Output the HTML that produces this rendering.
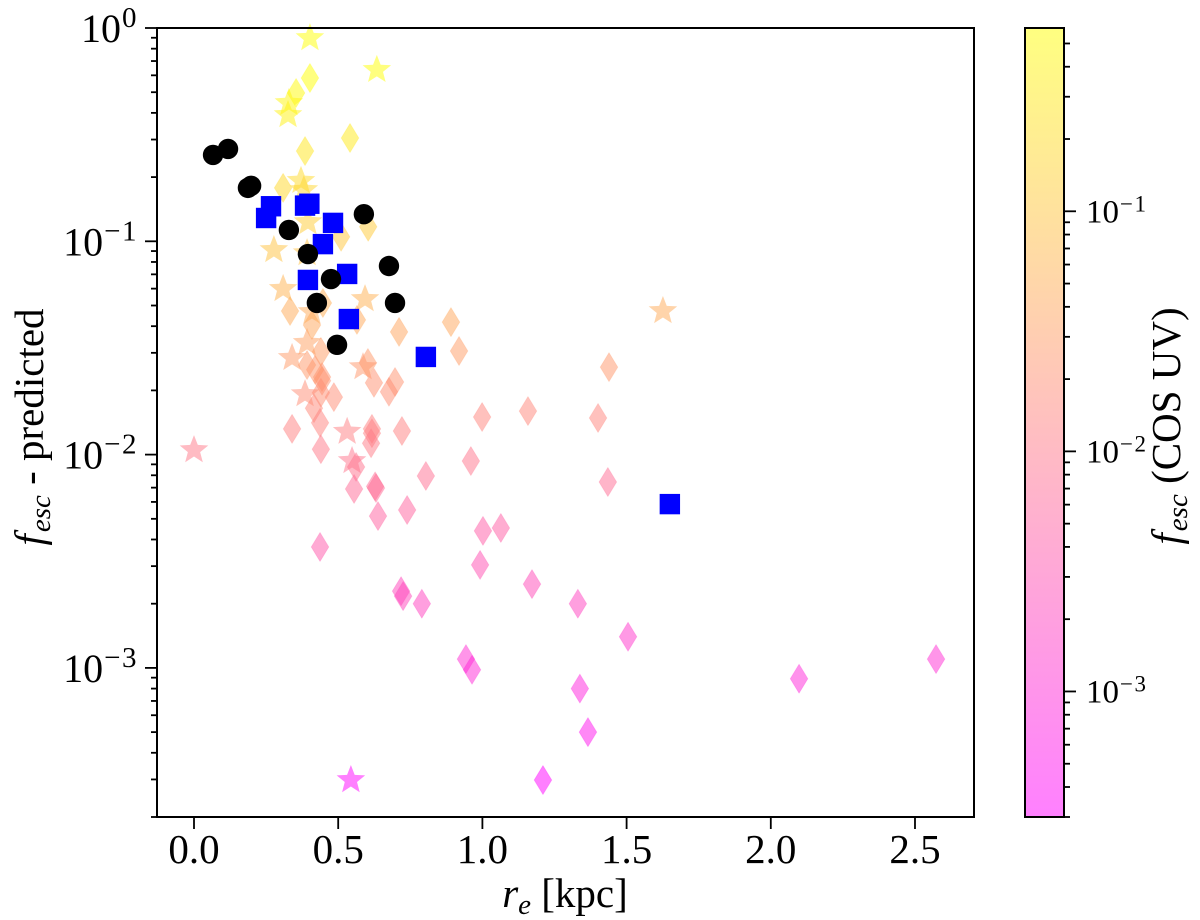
<!DOCTYPE html>
<html lang="en">
<head>
<meta charset="utf-8">
<title>fesc predicted vs re</title>
<style>
html,body{margin:0;padding:0;background:#fff;}
svg{display:block;font-family:"Liberation Serif","DejaVu Serif",serif;fill:#000;}
</style>
</head>
<body>
<svg id="chart" xmlns="http://www.w3.org/2000/svg" width="1200" height="920" viewBox="0 0 1200 920">
  <defs>
    <linearGradient id="cbGrad" x1="0" y1="1" x2="0" y2="0">
      <stop offset="0" stop-color="#ff80ff"/>
      <stop offset="1" stop-color="#ffff80"/>
    </linearGradient>
  </defs>
  <rect x="0" y="0" width="1200" height="920" fill="#fff"/>
  <g id="marks"></g>
  <rect x="157" y="28" width="817" height="789" fill="none" stroke="#000" stroke-width="2"/>
  <g id="axes"></g>
  <rect x="1025" y="28" width="39" height="789" fill="url(#cbGrad)" stroke="#000" stroke-width="2"/>
  <g id="cbaxis"></g>
  <text x="565" y="907" text-anchor="middle" font-size="41"><tspan font-style="italic">r</tspan><tspan font-style="italic" font-size="29" dy="7">e</tspan><tspan dy="-7"> [kpc]</tspan></text>
  <text transform="translate(43,427) rotate(-90)" text-anchor="middle" font-size="41"><tspan font-style="italic">f</tspan><tspan font-style="italic" font-size="29" dy="7" dx="2">esc</tspan><tspan dy="-7"> - predicted</tspan></text>
  <text transform="translate(1180,426) rotate(-90)" text-anchor="middle" font-size="41"><tspan font-style="italic">f</tspan><tspan font-style="italic" font-size="29" dy="7" dx="2">esc</tspan><tspan dy="-7"> (COS UV)</tspan></text>
</svg>
<script>
var diamondX = [0.402,0.354,0.541,0.385,0.309,0.604,0.51,0.333,0.409,0.447,0.565,0.891,0.711,0.919,0.44,0.603,0.392,0.444,0.444,0.42,0.44,0.624,0.697,0.676,0.485,0.416,0.437,0.34,0.617,0.617,0.614,0.721,0.999,1.158,0.44,0.96,0.804,0.562,0.555,0.631,0.628,0.739,0.638,1.002,1.064,0.437,1.439,1.401,1.435,0.992,1.172,0.718,0.725,0.79,1.331,1.505,0.943,0.964,1.338,1.366,1.21,2.098,2.573];
var diamondY = [0.583,0.496,0.305,0.265,0.178,0.117,0.105,0.0471,0.0405,0.0514,0.0428,0.0418,0.0376,0.0306,0.0303,0.0269,0.0263,0.0231,0.0222,0.025,0.0195,0.0217,0.0219,0.0197,0.0186,0.0165,0.0141,0.0132,0.0132,0.0126,0.0113,0.0129,0.015,0.016,0.0106,0.00933,0.00794,0.00875,0.0069,0.00697,0.0071,0.0055,0.00515,0.00439,0.00453,0.00369,0.0257,0.01485,0.00744,0.00304,0.00247,0.00229,0.00217,0.002,0.002,0.0014,0.0011,0.00098,0.0008,0.0005,0.000298,0.00089,0.0011];
var starX = [0.402,0.634,0.329,0.326,0.371,0.381,0.395,0.277,0.392,0.309,0.593,0.409,0.392,0.34,0.586,0.385,0.531,0.548,0,0.544,1.626];
var starY = [0.897,0.636,0.445,0.391,0.192,0.174,0.123,0.091,0.088,0.0598,0.0536,0.0466,0.0334,0.0284,0.0257,0.0192,0.0128,0.00933,0.0105,0.000298,0.0471];
var squareX = [0.267,0.25,0.385,0.4,0.482,0.447,0.531,0.395,0.537,0.804,1.65];
var squareY = [0.146,0.1286,0.147,0.15,0.122,0.097,0.0703,0.0659,0.0432,0.0287,0.00586];
var circleX = [0.066,0.118,0.187,0.198,0.329,0.589,0.395,0.676,0.475,0.426,0.697,0.496];
var circleY = [0.254,0.271,0.178,0.182,0.113,0.134,0.0871,0.0766,0.0665,0.0514,0.0514,0.0327];
var xTickValues = [0,0.5,1,1.5,2,2.5];
var xTickLabels = ["0.0","0.5","1.0","1.5","2.0","2.5"];
var yTickExponents = [0,-1,-2,-3];
var cbTickExponents = [-1,-2,-3];

var NS = "http://www.w3.org/2000/svg";
var xMin = -0.1283, xMax = 2.7046;
var yMinLog = Math.log10(2e-4), yMaxLog = 0;
var cMin = Math.log10(3e-4), cMax = Math.log10(0.58);

function xScale(v){ return 157 + (v - xMin) / (xMax - xMin) * 817; }
function yScale(v){ return 817 - (Math.log10(v) - yMinLog) / (yMaxLog - yMinLog) * 789; }
function cbScale(v){ return 817 - (Math.log10(v) - cMin) / (cMax - cMin) * 789; }
function springColor(v){
  var t = Math.max(0, Math.min(1, (Math.log10(v) - cMin) / (cMax - cMin)));
  return "rgb(255," + Math.round(255 * t) + "," + Math.round(255 * (1 - t)) + ")";
}
function make(tag, parent){
  var el = document.createElementNS(NS, tag);
  parent.appendChild(el);
  return el;
}
function tickLine(parent, x1, y1, x2, y2){
  var l = make("line", parent);
  l.setAttribute("x1", x1); l.setAttribute("y1", y1);
  l.setAttribute("x2", x2); l.setAttribute("y2", y2);
  l.setAttribute("stroke", "#000");
  l.setAttribute("stroke-width", "1.8");
  
  
  return l;
}
function powerLabel(parent, x, y, exp, anchorEnd, size, supSize, rise){
  var t = make("text", parent);
  t.setAttribute("y", y);
  t.setAttribute("font-size", size);
  t.setAttribute("x", x);
  if (anchorEnd) t.setAttribute("text-anchor", "end");
  
  
  var a = make("tspan", t);
  a.textContent = "10";
  var b = make("tspan", t);
  b.setAttribute("font-size", supSize);
  b.setAttribute("dy", -rise);
  b.setAttribute("dx", "1");
  b.setAttribute("letter-spacing", "1.5");
  b.textContent = (exp < 0 ? "\u2212" : "") + Math.abs(exp);
  return t;
}

var marks = document.getElementById("marks");
var axes = document.getElementById("axes");
var cbaxis = document.getElementById("cbaxis");

/* diamonds */
var gD = make("g", marks);


diamondX.forEach(function(xv, i){
  var cx = xScale(xv), cy = yScale(diamondY[i]);
  var p = make("polygon", gD);
  p.setAttribute("points", [cx,cy-14.5,cx+8.8,cy,cx,cy+14.5,cx-8.8,cy].join(" "));
  p.setAttribute("fill", springColor(diamondY[i]));
  p.setAttribute("fill-opacity", "0.5");
  p.setAttribute("stroke", springColor(diamondY[i]));
  p.setAttribute("stroke-opacity", "0.25");
  p.setAttribute("stroke-width", "0.8");
  p.setAttribute("stroke-linejoin", "round");
  
  
});

/* stars */
var gS = make("g", marks);


starX.forEach(function(xv, i){
  var cx = xScale(xv), cy = yScale(starY[i]), pts = [];
  for (var k = 0; k < 10; k++){
    var r = k % 2 ? 15 * 0.43 : 15;
    var a = Math.PI * k / 5;
    pts.push(cx + r * Math.sin(a), cy - r * Math.cos(a));
  }
  var p = make("polygon", gS);
  p.setAttribute("points", pts.join(" "));
  p.setAttribute("fill", springColor(starY[i]));
  p.setAttribute("fill-opacity", "0.5");
  
  
});

/* blue squares */
var gB = make("g", marks);


squareX.forEach(function(xv, i){
  var cx = xScale(xv), cy = yScale(squareY[i]);
  var r = make("rect", gB);
  r.setAttribute("x", cx - 10.2);
  r.setAttribute("y", cy - 10.2);
  r.setAttribute("width", 20.4);
  r.setAttribute("height", 20.4);
  r.setAttribute("fill", "#0000ff");
  
  
});

/* black circles */
var gC = make("g", marks);


circleX.forEach(function(xv, i){
  var c = make("circle", gC);
  c.setAttribute("cx", xScale(xv));
  c.setAttribute("cy", yScale(circleY[i]));
  c.setAttribute("r", 10.2);
  c.setAttribute("fill", "#000");
  
  
});

/* x axis */
xTickValues.forEach(function(v, i){
  var x = xScale(v);
  tickLine(axes, x, 817, x, 829);
  var t = make("text", axes);
  t.setAttribute("x", x);
  t.setAttribute("y", 863);
  t.setAttribute("text-anchor", "middle");
  t.setAttribute("font-size", "41");
  
  
  t.textContent = xTickLabels[i];
});

/* y axis */
yTickExponents.forEach(function(e){
  var y = yScale(Math.pow(10, e));
  tickLine(axes, 157, y, 145, y);
  powerLabel(axes, 138, y + 14, e, true, 40, 29, 15);
});
for (var e = -4; e < 0; e++){
  for (var m = 2; m < 10; m++){
    var v = m * Math.pow(10, e);
    if (v < 2e-4) continue;
    var y = yScale(v);
    tickLine(axes, 157, y, 151, y);
  }
}

/* colorbar axis */
cbTickExponents.forEach(function(e){
  var y = cbScale(Math.pow(10, e));
  tickLine(cbaxis, 1064, y, 1076, y);
  powerLabel(cbaxis, 1086, y + 11, e, false, 33, 23, 11);
});
for (var ce = -4; ce < 0; ce++){
  for (var cm = 2; cm < 10; cm++){
    var cv = cm * Math.pow(10, ce);
    if (cv < 3e-4 || cv > 0.58) continue;
    var cy = cbScale(cv);
    tickLine(cbaxis, 1064, cy, 1070, cy);
  }
}
</script>
</body>
</html>
